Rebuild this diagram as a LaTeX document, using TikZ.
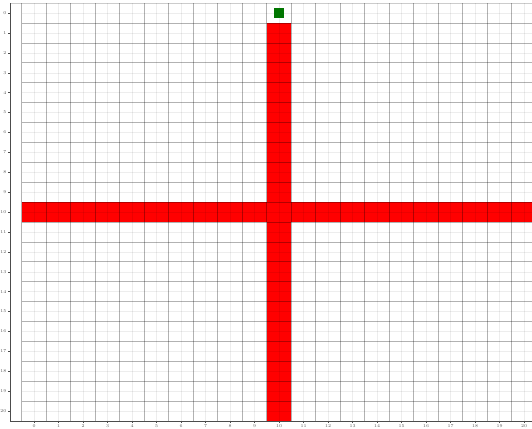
\documentclass[tikz,border=0pt]{standalone}
\begin{document}
\begin{tikzpicture}[x=24.5pt,y=-19.9pt,
  minorline/.style={line width=0.35pt,black,opacity=0.07},
  majorline/.style={line width=0.6pt,black,opacity=0.3},
  axisline/.style={line width=0.6pt,black!70},
  ticklabel/.style={font=\fontsize{4.4}{5}\selectfont,text=black!65,inner sep=0pt},
  redcell/.style={fill={rgb,255:red,255;green,0;blue,0}},
  greencell/.style={fill={rgb,255:red,0;green,118;blue,0}}]
\useasboundingbox[fill=white] (-1.3878,-0.6533) rectangle (20.3265,20.854);
% red bars
\fill[redcell] (9.5,0.5) rectangle (10.5,20.5);
\fill[redcell] (-0.5,9.5) rectangle (20.3265,10.5);
% minor grid
\foreach \i in {0,...,20} {
  \draw[minorline] (\i,-0.5) -- (\i,20.5);
  \draw[minorline] (-0.5,\i) -- (20.3265,\i);
}
% major grid
\foreach \i in {-0.5,0.5,...,19.5} {
  \draw[majorline] (\i,-0.5) -- (\i,20.5);
}
\foreach \i in {0.5,1.5,...,20.5} {
  \draw[majorline] (-0.5,\i) -- (20.3265,\i);
}
\draw[line width=0.4pt,black,opacity=0.2] (-0.98,-0.5) -- (20.3265,-0.5);
% green square
\fill[greencell] (9.8,-0.25) rectangle (10.2,0.25);
% axes
\coordinate (o) at (-0.98,20.5);
\coordinate (top) at (-0.98,-0.5);
\coordinate (right) at (20.3265,20.5);
\draw[axisline] (top) -- (o) -- (right);
\foreach \i in {0,...,20} {
  \draw[line width=0.4pt,black!70] (-0.98,\i) -- (-1.08,\i);
  \node[ticklabel,anchor=east] (yl\i) at (-1.12,\i) {\i};
  \draw[line width=0.4pt,black!70] (\i,20.5) -- (\i,20.62);
  \node[ticklabel,anchor=north] (xl\i) at (\i,20.66) {\i};
}
\end{tikzpicture}
\end{document}
